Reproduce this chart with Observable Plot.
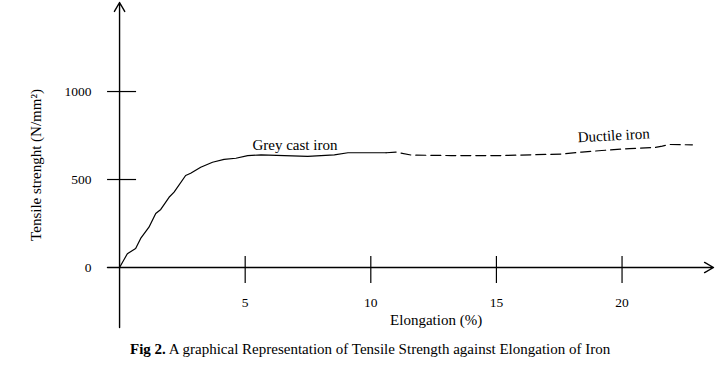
<!DOCTYPE html>
<html><head><meta charset="utf-8">
<script src="https://cdn.jsdelivr.net/npm/d3@7"></script>
<script src="https://cdn.jsdelivr.net/npm/@observablehq/plot@0.6"></script>
<style>
body{margin:0;background:#fff;font-family:"Liberation Serif","Times New Roman",serif;}
#wrap{position:relative;width:727px;height:371px;overflow:hidden;background:#fff;}
#caption{position:absolute;left:130px;top:340px;font-size:15px;line-height:18px;white-space:nowrap;color:#000;}
</style></head><body>
<div id="wrap"><div id="chart"></div><div id="caption"><b>Fig 2.</b> A graphical Representation of Tensile Strength against Elongation of Iron</div></div>
<script>
// Grey cast iron (solid)
const greyElong    = [0, 0.31, 0.64, 0.84, 1.17, 1.44, 1.64, 1.97, 2.17, 2.63, 2.83, 3.23, 3.70, 4.16, 4.63, 5.10, 5.63, 6.56, 7.49, 8.55, 9.09, 10.41, 10.61];
const greyStrength = [0, 78, 108, 165, 229, 307, 330, 399, 428, 523, 536, 570, 598, 614, 621, 636, 640, 636, 632, 640, 652, 652, 652];
// Ductile iron (dashed)
const ductElong    = [10.61, 11.0, 11.61, 13.2, 15.2, 17.6, 18.4, 19.2, 20.3, 21.3, 21.6, 21.9, 22.8];
const ductStrength = [652, 656, 639, 636, 636, 645, 656, 665, 676, 682, 690, 699, 697];
const xTicks = [5, 10, 15, 20];
const yTickMarks = [500, 1000];
const yTickLabels = [0, 500, 1000];
const xDomain = [-0.48, 23.64];
const yDomain = [-341, 1506];

const grey = greyElong.map((x, i) => ({x, y: greyStrength[i]}));
const duct = ductElong.map((x, i) => ({x, y: ductStrength[i]}));

const chart = Plot.plot({
  width: 727, height: 335,
  marginLeft: 107, marginRight: 14, marginTop: 2, marginBottom: 8,
  x: {domain: xDomain, axis: null},
  y: {domain: yDomain, axis: null},
  style: {fontFamily: "'Liberation Serif', 'Times New Roman', serif", fontSize: "15px", color: "#000", background: "#fff"},
  marks: [
    Plot.arrow([{x1: 0, y1: yDomain[0], x2: 0, y2: yDomain[1]}], {x1: "x1", y1: "y1", x2: "x2", y2: "y2", stroke: "#000", strokeWidth: 1.4, headLength: 11, headAngle: 60}),
    Plot.arrow([{x1: xDomain[0], y1: 0, x2: xDomain[1], y2: 0}], {x1: "x1", y1: "y1", x2: "x2", y2: "y2", stroke: "#000", strokeWidth: 1.4, headLength: 11, headAngle: 60}),
    Plot.ruleX(xTicks, {x: d => d, y1: 0, y2: 0, insetTop: -11, insetBottom: -16, stroke: "#000", strokeWidth: 1.2}),
    Plot.ruleY(yTickMarks, {y: d => d, x1: 0, x2: 0, insetLeft: -12, insetRight: -17, stroke: "#000", strokeWidth: 1.2}),
    Plot.text(yTickLabels, {x: 0, y: d => d, text: d => String(d), textAnchor: "end", dx: -28, fontSize: 13.5}),
    Plot.text(xTicks, {x: d => d, y: 0, text: d => String(d), dy: 35, fontSize: 13.5}),
    Plot.line(grey, {x: "x", y: "y", stroke: "#000", strokeWidth: 1.2}),
    Plot.line(duct, {x: "x", y: "y", stroke: "#000", strokeWidth: 1.2, strokeDasharray: "10,5"}),
    Plot.text(["Grey cast iron"], {x: 6.98, y: 693, text: d => d, fontSize: 15}),
    Plot.text(["Ductile iron"], {x: 19.67, y: 750, text: d => d, fontSize: 15, rotate: -3}),
    Plot.text(["Elongation (%)"], {x: 12.6, y: 0, text: d => d, dy: 53, fontSize: 15}),
    Plot.text(["Tensile strenght (N/mm²)"], {frameAnchor: "left", dx: -71, text: d => d, rotate: -90, textAnchor: "middle", fontSize: 15})
  ]
});
document.getElementById("chart").appendChild(chart);
</script>
</body></html>
